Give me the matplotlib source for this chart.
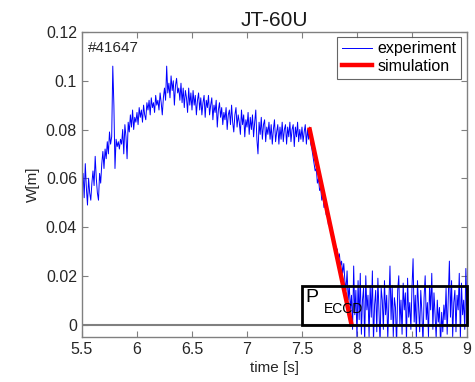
"""
JT-60U shot #41647: stored energy decay, experiment vs simulation.
"""
import numpy as np
import matplotlib
matplotlib.use("Agg")
import matplotlib.pyplot as plt
from matplotlib.patches import Rectangle

plt.rcParams["font.family"] = ["Liberation Sans", "DejaVu Sans"]

# ---------------------------------------------------------------------------
# Data, W in units of 1e-3
# ---------------------------------------------------------------------------
T_START, T_STEP = 5.5, 0.01
W_EXP_MILLI = [
    55, 62, 52, 66, 56, 49, 60, 54, 51, 58,
    63, 57, 69, 60, 54, 51, 62, 58, 66, 71,
    64, 72, 68, 75, 70, 79, 74, 77, 106, 90,
    64, 76, 73, 75, 72, 76, 74, 80, 70, 82,
    77, 68, 83, 79, 86, 81, 88, 80, 85, 83,
    87, 82, 89, 85, 88, 83, 90, 86, 84, 91,
    88, 92, 86, 93, 89, 91, 87, 94, 90, 92,
    88, 95, 91, 86, 93, 97, 92, 106, 95, 99,
    93, 102, 96, 100, 90, 98, 101, 95, 97, 92,
    99, 91, 97, 89, 96, 93, 87, 97, 90, 95,
    88, 96, 90, 94, 86, 92, 95, 88, 93, 86,
    91, 94, 85, 92, 89, 94, 86, 90, 93, 84,
    90, 87, 92, 81, 88, 91, 85, 89, 82, 87,
    84, 89, 80, 86, 88, 82, 90, 83, 79, 86,
    89, 81, 86, 83, 78, 88, 82, 86, 77, 84,
    81, 87, 78, 85, 80, 86, 77, 83, 88, 76,
    70, 83, 78, 85, 76, 82, 84, 75, 81, 78,
    83, 76, 82, 74, 80, 84, 75, 79, 82, 74,
    81, 76, 83, 75, 80, 82, 74, 81, 77, 83,
    75, 80, 82, 73, 81, 77, 83, 75, 80, 76,
    81, 75, 79, 82, 74, 80, 76, 81, 74, 72,
    69, 66, 63, 64, 58, 60, 55, 56, 51, 53,
    48, 50, 45, 46, 41, 43, 38, 40, 35, 36,
    33, 30, 31, 27, 29, 24, 26, 21, 25, 18,
    14, 22, 10, 16, 6, 12, -2, 24, 4, 14,
    -6, 18, 2, 21, -4, 10, 15, -8, 20, 6,
    12, -5, 16, 3, 22, -7, 8, 14, -3, 19,
    5, -8, 15, 10, -2, 18, 4, 12, -6, 9,
    24, 2, 16, -5, 11, 7, -9, 14, 20, 0,
    10, -4, 17, 6, 13, -7, 19, 3, 9, -2,
    15, 27, 1, 12, -6, 18, 8, -3, 14, 5,
    -8, 11, 20, 2, 9, -5, 16, 6, 21, -2,
    13, 4, -6, 10, 1, 7, -9, 5, -3, 8,
    2, 15, -4, 11, 26, 3, 18, -5, 9, 14,
    -3, 12, 6, 21, -6, 17, 4, 10, -2, 23,
    8,
]
T_SIM = [7.57, 7.95]
W_SIM = [0.080, 0.0]

ECCD_T = [7.5, 9.0]
ECCD_H = 0.016

SHOT = "#41647"
TITLE = "JT-60U"

t_exp = T_START + T_STEP * np.arange(len(W_EXP_MILLI))
w_exp = np.array(W_EXP_MILLI) * 1e-3

# ---------------------------------------------------------------------------
# Plot
# ---------------------------------------------------------------------------
fig = plt.figure(figsize=(4.75, 3.82), dpi=100)
ax = fig.add_axes([0.1726, 0.1186, 0.8105, 0.7976])

gray = "#808080"
txt = "#262626"
ax.axhline(0, color=gray, linewidth=1.5, zorder=1)
ax.plot(t_exp, w_exp, color="#0000ff", linewidth=0.7, label="experiment",
        zorder=2)
ax.plot(T_SIM, W_SIM, color="#ff0000", linewidth=3.2, label="simulation",
        zorder=3)

ax.add_patch(Rectangle((ECCD_T[0], 0), ECCD_T[1] - ECCD_T[0], ECCD_H,
                       fill=False, edgecolor="black", linewidth=2,
                       zorder=4, clip_on=False))
ax.text(7.535, 0.0145, "P", fontsize=14, va="top", ha="left", zorder=5)
ax.text(7.70, 0.0048, "ECCD", fontsize=10, va="baseline", ha="left",
        zorder=5)

ax.text(5.55, 0.1165, SHOT, fontsize=11, va="top", ha="left", color=txt)

ax.set_xlim(5.5, 9.0)
ax.set_ylim(-0.005, 0.12)
ax.set_xticks([5.5, 6, 6.5, 7, 7.5, 8, 8.5, 9])
ax.set_xticklabels(["5.5", "6", "6.5", "7", "7.5", "8", "8.5", "9"])
ax.set_yticks([0, 0.02, 0.04, 0.06, 0.08, 0.1, 0.12])
ax.set_yticklabels(["0", "0.02", "0.04", "0.06", "0.08", "0.1", "0.12"])
ax.tick_params(direction="in", top=True, right=True, length=4,
               color=gray, labelsize=11.5, labelcolor=txt)
for s in ax.spines.values():
    s.set_color(gray)
    s.set_linewidth(1.0)

ax.set_xlabel("time [s]", fontsize=11, color=txt, labelpad=3)
ax.set_ylabel("W[m]", fontsize=11, color=txt)
ax.set_title(TITLE, fontsize=15, color="#1a1a1a", pad=4)

leg = ax.legend(loc="upper right", fontsize=11.5, frameon=True,
                fancybox=False, edgecolor="#404040", handlelength=1.9,
                borderpad=0.3, labelspacing=0.15, handletextpad=0.3,
                borderaxespad=0.0, bbox_to_anchor=(0.985, 0.985))
leg.get_frame().set_linewidth(0.8)

fig.savefig("out.png", dpi=100)
plt.close("all")
